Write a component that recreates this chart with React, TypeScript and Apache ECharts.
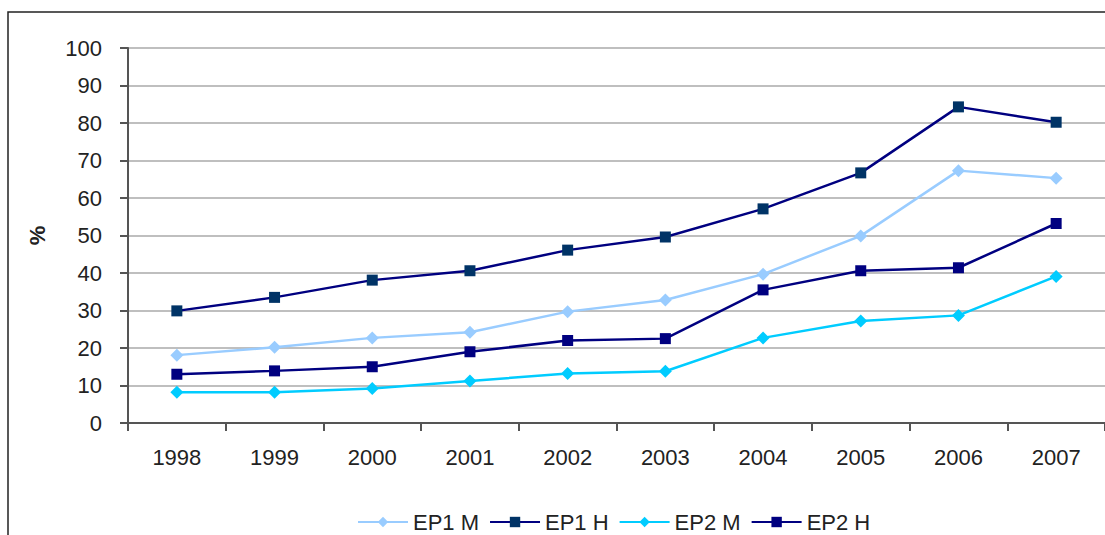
import React, { useEffect, useRef } from "react";
import * as echarts from "echarts";

const years = ["1998", "1999", "2000", "2001", "2002", "2003", "2004", "2005", "2006", "2007"];
const ep1M = [18.1, 20.2, 22.7, 24.2, 29.7, 32.8, 39.7, 49.9, 67.3, 65.3];
const ep1H = [29.9, 33.5, 38.1, 40.6, 46.1, 49.6, 57.1, 66.7, 84.3, 80.2];
const ep2M = [8.2, 8.2, 9.2, 11.2, 13.2, 13.8, 22.7, 27.2, 28.7, 39.1];
const ep2H = [13.0, 13.9, 15.0, 19.0, 22.0, 22.5, 35.5, 40.6, 41.4, 53.2];

const FONT = "'Liberation Sans', Arial, sans-serif";

export default function App() {
  const ref = useRef<HTMLDivElement>(null);
  useEffect(() => {
    if (!ref.current) return;
    const chart = echarts.init(ref.current, null, { renderer: "svg" });
    const mk = (name: string, data: number[], lineColor: string, markColor: string, symbol: string, size: number) => ({
      name,
      type: "line",
      data,
      symbol,
      symbolSize: size,
      showSymbol: true,
      lineStyle: { color: lineColor, width: 2.5 },
      itemStyle: { color: markColor, borderWidth: 0 },
      emphasis: { disabled: true },
    });
    chart.setOption({
      animation: false,
      backgroundColor: "#fff",
      textStyle: { fontFamily: FONT },
      graphic: [
        {
          type: "rect",
          shape: { x: 8, y: 12, width: 1300, height: 700 },
          style: { fill: "none", stroke: "#222", lineWidth: 1.5 },
          silent: true,
        },
      ],
      grid: { left: 128, right: -3, top: 48, bottom: 112, containLabel: false },
      legend: {
        top: 506,
        left: 352,
        itemWidth: 50,
        itemHeight: 13,
        itemGap: 10,
        textStyle: { fontSize: 22, color: "#222", fontFamily: FONT },
        data: ["EP1 M", "EP1 H", "EP2 M", "EP2 H"],
      },
      xAxis: {
        type: "category",
        data: years,
        boundaryGap: true,
        axisLine: { lineStyle: { color: "#555", width: 2 } },
        axisTick: { show: true, length: 8, lineStyle: { color: "#555", width: 2 } },
        axisLabel: { fontSize: 22, color: "#222", margin: 23, fontFamily: FONT },
        splitLine: { show: false },
      },
      yAxis: {
        type: "value",
        min: 0,
        max: 100,
        interval: 10,
        name: "%",
        nameLocation: "middle",
        nameRotate: 90,
        nameGap: 80,
        nameTextStyle: { fontSize: 22, color: "#222", fontWeight: "bold", fontFamily: FONT },
        axisLine: { show: true, lineStyle: { color: "#555", width: 2 } },
        axisTick: { show: true, length: 8, lineStyle: { color: "#555", width: 2 } },
        axisLabel: { fontSize: 22, color: "#222", margin: 26, fontFamily: FONT },
        splitLine: { show: true, lineStyle: { color: "#aaaaaa", width: 1.5 } },
      },
      series: [
        mk("EP1 M", ep1M, "#99ccff", "#99ccff", "diamond", 13),
        mk("EP1 H", ep1H, "#000080", "#003366", "rect", 11),
        mk("EP2 M", ep2M, "#00ccff", "#00ccff", "diamond", 13),
        mk("EP2 H", ep2H, "#000080", "#000080", "rect", 11),
      ],
    });
    return () => chart.dispose();
  }, []);
  return (
    <div style={{ position: "fixed", left: 0, top: 0, width: 1105, height: 535, overflow: "hidden", background: "#fff" }}>
      <div ref={ref} style={{ width: 1105, height: 535 }} />
    </div>
  );
}
